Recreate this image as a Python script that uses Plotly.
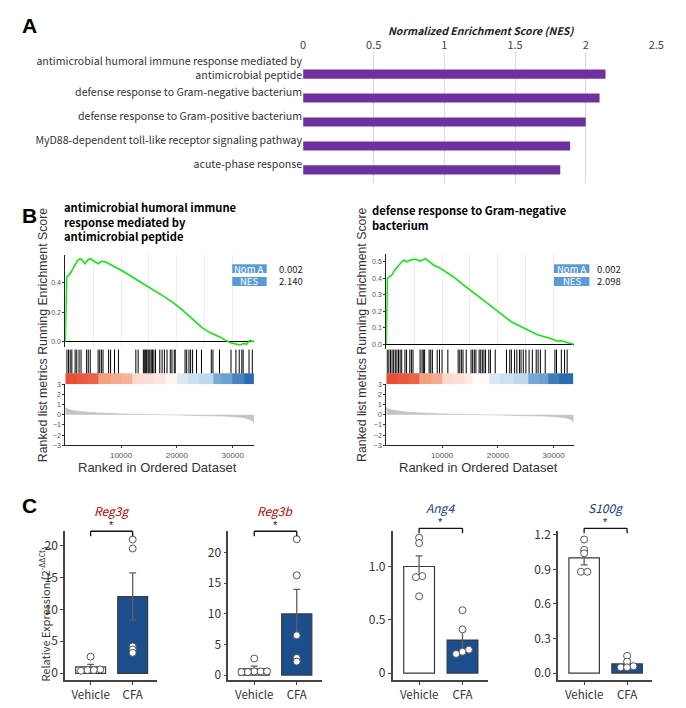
import plotly.graph_objects as go

W, H = 686, 708

# ======================= DATA =======================
# Panel A
go_terms = [
    "antimicrobial humoral immune response mediated by<br>antimicrobial peptide",
    "defense response to Gram-negative bacterium",
    "defense response to Gram-positive bacterium",
    "MyD88-dependent toll-like receptor signaling pathway",
    "acute-phase response",
]
nes_values = [2.140, 2.098, 2.00, 1.89, 1.82]
nes_axis_ticks = [0, 0.5, 1, 1.5, 2, 2.5]
nes_axis_labels = ["0", "0.5", "1", "1.5", "2", "2.5"]

# Panel B
gsea_titles = ["antimicrobial humoral immune<br>response mediated by<br>antimicrobial peptide",
               "defense response to Gram-negative<br>bacterium"]
gsea_nom_p = ["0.002", "0.002"]
gsea_nes = ["2.140", "2.098"]
ranked_list_size = [33800, 33600]

es_rank_1 = [0, 100, 250, 600, 1000, 1400, 1800, 2200, 2650, 3000, 3500, 3900, 4400, 4900,
             5400, 5900, 6400, 6900, 7600, 8400, 9400, 10500, 12000, 13500, 15000, 16500,
             18000, 19500, 21000, 22900, 24500, 26000, 27600, 28600, 29500, 30500, 31300,
             32000, 32500, 33000, 33500, 33800]
es_score_1 = [0, 0.30, 0.44, 0.45, 0.47, 0.50, 0.53, 0.55, 0.565, 0.555, 0.53, 0.55, 0.565, 0.555,
              0.54, 0.53, 0.545, 0.545, 0.535, 0.52, 0.50, 0.475, 0.44, 0.405, 0.375, 0.34,
              0.30, 0.26, 0.215, 0.15, 0.095, 0.06, 0.034, 0.012, -0.005, -0.015, -0.022,
              -0.012, -0.018, 0.008, 0.003, 0.0]
es_rank_2 = [0, 100, 200, 600, 1000, 1500, 2000, 2500, 2900, 3300, 3700, 4200, 4800, 5400,
             5900, 6400, 7000, 7600, 8500, 9500, 10500, 12000, 13500, 15000, 16500, 18000,
             19500, 21000, 22500, 24000, 25500, 27000, 28500, 29500, 30500, 31500, 32500,
             33200, 33600]
es_score_2 = [0, 0.30, 0.40, 0.41, 0.42, 0.45, 0.47, 0.49, 0.505, 0.51, 0.50, 0.51, 0.515, 0.515,
              0.505, 0.51, 0.52, 0.505, 0.48, 0.465, 0.445, 0.41, 0.37, 0.33, 0.29, 0.25,
              0.21, 0.17, 0.135, 0.11, 0.085, 0.06, 0.045, 0.035, 0.02, 0.022, 0.01,
              0.005, 0.0]

hits_1 = [294, 588, 882, 1176, 1764, 2058, 2470, 2822, 3822, 4116, 4469, 5880, 6174, 6468,
          6762, 7762, 8114, 8820, 9526, 12642, 13054, 13994, 14230, 14406, 14582, 14818,
          14994, 15170, 15406, 15641, 15876, 16170, 16934, 17346, 17758, 18228, 18816,
          19110, 19522, 19698, 21462, 21756, 22168, 22462, 22814, 23520, 24402, 26166,
          26460, 27636, 29694, 30576, 31164, 31634, 31870, 32928, 33516]
hits_2 = [173, 462, 751, 1040, 1329, 1618, 1907, 2196, 2485, 2774, 3352, 3641, 4219, 4508,
          4797, 6069, 6416, 6647, 6878, 7687, 7976, 8265, 9132, 9537, 9999, 11040, 12889,
          13178, 13468, 13757, 14334, 15201, 15490, 15779, 16068, 16646, 16935, 17224,
          17513, 17802, 18380, 18669, 19536, 21559, 22137, 22426, 23004, 23409, 23871,
          24160, 24565, 25027, 25605, 26183, 26877, 27224, 27628, 28495, 30229, 30518,
          31385, 31963, 32426]

metric_rank = [0, 300, 1000, 2000, 3500, 5500, 8000, 11000, 14000, 17000, 19500, 22000,
               25000, 28000, 30500, 32000, 33000, 33500, 33800]
metric_1 = [0.75, 0.6, 0.45, 0.35, 0.27, 0.19, 0.12, 0.07, 0.04, 0.01, 0.0, -0.03,
            -0.07, -0.13, -0.2, -0.3, -0.45, -0.6, -0.85]
metric_2 = [0.78, 0.62, 0.46, 0.36, 0.27, 0.19, 0.12, 0.07, 0.04, 0.01, 0.0, -0.03,
            -0.07, -0.13, -0.2, -0.3, -0.45, -0.62, -0.9]

band_edges_1 = [0, 2000, 4000, 6000, 8000, 10000, 12000, 14000, 16000, 18000, 20000,
                22000, 24000, 26500, 28000, 30000, 32000, 33800]
band_level_1 = [0.95, 0.9, 0.85, 0.55, 0.5, 0.45, 0.22, 0.18, 0.14, 0.06, -0.15,
                -0.2, -0.25, -0.55, -0.6, -0.8, -0.95]
band_edges_2 = [0, 2000, 4000, 6000, 8000, 10000, 12000, 14000, 15500, 18500, 20500,
                23000, 25500, 27500, 29000, 31000, 33600]
band_level_2 = [0.95, 0.9, 0.85, 0.55, 0.5, 0.22, 0.18, 0.12, 0.03, -0.15, -0.2,
                -0.25, -0.55, -0.6, -0.85, -0.95]

es_ticks_1 = [0.0, 0.2, 0.4]
es_ticks_2 = [0.0, 0.1, 0.2, 0.3, 0.4, 0.5]
metric_ticks = [3, 2, 1, 0, -1, -2, -3]
rank_ticks = [10000, 20000, 30000]

# Panel C
genes = ["Reg3g", "Reg3b", "Ang4", "S100g"]
groups = ["Vehicle", "CFA"]
mean_vehicle = [1.0, 1.0, 1.0, 1.0]
mean_cfa = [12.0, 10.0, 0.31, 0.08]
sem_vehicle = [0.4, 0.45, 0.10, 0.06]
sem_cfa = [3.7, 4.0, 0.10, 0.02]
pts_vehicle = [
    [2.6, 0.6, 0.4, 0.5, 0.5],
    [2.7, 0.6, 0.5, 0.6, 0.6, 0.5],
    [1.27, 1.22, 0.91, 0.90, 0.72],
    [1.16, 1.07, 1.04, 0.88, 0.88],
]
pts_cfa = [
    [20.9, 19.5, 4.2, 3.7, 3.2],
    [22.2, 16.3, 6.5, 2.8, 2.2],
    [0.59, 0.41, 0.22, 0.20, 0.18],
    [0.15, 0.10, 0.06, 0.05, 0.05],
]
gene_y_ticks = [[0, 5, 10, 15, 20], [0, 5, 10, 15, 20], [0, 0.5, 1.0], [0, 0.3, 0.6, 0.9, 1.2]]
gene_y_labels = [["0", "5", "10", "15", "20"], ["0", "5", "10", "15", "20"],
                 ["0", "0.5", "1.0"], ["0.0", "0.3", "0.6", "0.9", "1.2"]]
gene_colors = ["#C00000", "#C00000", "#203C7C", "#203C7C"]

# ======================= HELPERS =======================
def xd(a, b):
    return [a / W, b / W]

def yd(top, bottom):
    return [1 - bottom / H, 1 - top / H]

def px(x):
    return x / W

def py(y):
    return 1 - y / H

KFONT = "Noto Sans CJK KR"
AFONT = "Liberation Sans"

fig = go.Figure()
layout = dict(width=W, height=H, margin=dict(l=0, r=0, t=0, b=0),
              paper_bgcolor="white", plot_bgcolor="white", showlegend=False,
              font=dict(family=KFONT, color="#333"))
annotations = []
shapes = []


def note(text, x, y, size, color="#333", family=KFONT, xanchor="center", yanchor="middle",
         **kw):
    font = dict(size=size, color=color, family=family)
    font.update(kw.pop("font_extra", {}))
    d = dict(text=text, x=x, y=y, xref=kw.pop("xref", "paper"), yref=kw.pop("yref", "paper"),
             xanchor=xanchor, yanchor=yanchor, showarrow=False, font=font)
    d.update(kw)
    annotations.append(d)


# ======================= PANEL A =======================
fig.add_trace(go.Bar(x=nes_values, y=list(range(len(nes_values))), orientation="h",
                     width=0.38, marker=dict(color="#7030A0", line=dict(width=0)),
                     xaxis="x", yaxis="y"))
layout["xaxis"] = dict(domain=xd(305, 664), range=[0, 2.5], side="top", anchor="y",
                       tickvals=nes_axis_ticks, ticktext=nes_axis_labels, showgrid=True,
                       gridcolor="#D9D9D9", gridwidth=1, zeroline=False, showline=False,
                       ticks="", tickfont=dict(size=11, color="#444", family=KFONT))
layout["yaxis"] = dict(domain=yd(47, 179), range=[4.536, -0.907], anchor="x",
                       tickvals=list(range(len(go_terms))), ticktext=go_terms,
                       showgrid=False, zeroline=False, showline=False, ticks="",
                       ticklabelshift=6,
                       tickfont=dict(size=10.6, color="#333", family=KFONT))
note("<i>Normalized Enrichment Score (NES)</i>", px(486), py(24.5), 10.5, "#222",
     font_extra=dict(weight="bold"))

# ======================= PANEL B =======================
B = [
    dict(x0=63.3, x1=255, es_top=252, es_bot=345, es_range=[-0.0336, 0.5906],
         es_rank=es_rank_1, es_score=es_score_1, hits=hits_1, metric=metric_1,
         band_edges=band_edges_1, band_level=band_level_1, es_ticks=es_ticks_1,
         n=ranked_list_size[0], title_x=60, title_y=193, table_x0=233, table_x1=268,
         val_x=279, ylab_x=40, xlab_x=157),
    dict(x0=389.5, x1=580, es_top=251, es_bot=347, es_range=[-0.0257, 0.549],
         es_rank=es_rank_2, es_score=es_score_2, hits=hits_2, metric=metric_2,
         band_edges=band_edges_2, band_level=band_level_2, es_ticks=es_ticks_2,
         n=ranked_list_size[1], title_x=373, title_y=196, table_x0=560, table_x1=596,
         val_x=603, ylab_x=365, xlab_x=483),
]
band_scale = [[0, "#2166AC"], [0.25, "#7FB1DA"], [0.5, "#FFFFFF"], [0.75, "#F6A98C"],
              [1, "#E8432C"]]
ax = 2
for i, b in enumerate(B):
    # ES panel
    fig.add_trace(go.Scatter(x=b["es_rank"], y=b["es_score"], mode="lines",
                             line=dict(color="#11E611", width=1.6),
                             xaxis=f"x{ax}", yaxis=f"y{ax}"))
    layout[f"xaxis{ax}"] = dict(domain=xd(b["x0"], b["x1"]), range=[0, b["n"]], anchor=f"y{ax}",
                                showticklabels=False, ticks="", showgrid=True, dtick=5000,
                                gridcolor="#EDEDED", gridwidth=1, zeroline=False, showline=False)
    layout[f"yaxis{ax}"] = dict(domain=yd(b["es_top"], b["es_bot"]), range=b["es_range"],
                                anchor=f"x{ax}", tickvals=b["es_ticks"], tickformat=".1f",
                                ticks="outside", ticklen=2, tickcolor="#333",
                                tickfont=dict(size=7, color="#555", family=AFONT),
                                showline=True, linecolor="#222", linewidth=1, showgrid=False,
                                zeroline=True, zerolinecolor="#000", zerolinewidth=1.2)
    ax += 1
    # hits + colour band
    hx, hy = [], []
    for h in b["hits"]:
        hx += [h, h, None]
        hy += [0, 1, None]
    fig.add_trace(go.Heatmap(x=b["band_edges"], y=[-0.4583, 0], z=[b["band_level"]],
                             colorscale=band_scale, zmin=-1, zmax=1, showscale=False,
                             hoverinfo="skip", xaxis=f"x{ax}", yaxis=f"y{ax}"))
    fig.add_trace(go.Scatter(x=hx, y=hy, mode="lines", line=dict(color="#000", width=1),
                             xaxis=f"x{ax}", yaxis=f"y{ax}"))
    layout[f"xaxis{ax}"] = dict(domain=xd(b["x0"], b["x1"]), range=[0, b["n"]], anchor=f"y{ax}",
                                visible=False)
    layout[f"yaxis{ax}"] = dict(domain=yd(347, 383), range=[-0.4583, 1.0417], anchor=f"x{ax}",
                                visible=False)
    ax += 1
    # ranked list metric
    fig.add_trace(go.Scatter(x=metric_rank[:-1] + [b["n"]], y=b["metric"], mode="lines",
                             fill="tozeroy", fillcolor="#C4C4C4",
                             line=dict(color="#B8B8B8", width=0.5),
                             xaxis=f"x{ax}", yaxis=f"y{ax}"))
    layout[f"xaxis{ax}"] = dict(domain=xd(b["x0"], b["x1"]), range=[0, b["n"]], anchor=f"y{ax}",
                                tickvals=rank_ticks, ticktext=[str(t) for t in rank_ticks],
                                ticks="outside", ticklen=2, tickcolor="#333",
                                tickfont=dict(size=8, color="#555", family=AFONT),
                                showline=True, linecolor="#222", linewidth=1, showgrid=False,
                                zeroline=False)
    layout[f"yaxis{ax}"] = dict(domain=yd(383, 445), range=[-3, 3], anchor=f"x{ax}",
                                tickvals=metric_ticks, ticks="outside", ticklen=2,
                                tickcolor="#333", tickfont=dict(size=7, color="#555", family=AFONT),
                                showline=True, linecolor="#222", linewidth=1, showgrid=False,
                                zeroline=False)
    ax += 1
    # titles and table
    note(gsea_titles[i], px(b["title_x"]), py(b["title_y"]), 11.2, "#000",
         xanchor="left", yanchor="top", align="left", font_extra=dict(weight="bold"))
    for lab, val, top in [("Nom A", gsea_nom_p[i], 261.5), ("NES", gsea_nes[i], 274.5)]:
        shapes.append(dict(type="rect", xref="paper", yref="paper",
                           x0=px(b["table_x0"]), x1=px(b["table_x1"]),
                           y0=py(top + 9), y1=py(top), fillcolor="#5B9BD5",
                           line=dict(width=0), layer="above"))
        note(lab, px((b["table_x0"] + b["table_x1"]) / 2), py(top + 4.5), 9.5, "white",
             borderpad=0)
        note(val, px(b["val_x"]), py(top + 4.5), 9.5, "#222", xanchor="left", borderpad=0)
    note("Ranked list metrics Running Enrichment Score", px(b["ylab_x"]), py(333), 12.3,
         "#333", family=AFONT, textangle=-90)
    note("Ranked in Ordered Dataset", px(b["xlab_x"]), py(467.5), 13, "#333", family=AFONT)

# ======================= PANEL C =======================
C = [
    dict(x0=63, x1=157, yr=[-1.1, 22.2], brk=0),
    dict(x0=229, x1=324, yr=[-0.855, 23.5], brk=0),
    dict(x0=396, x1=493, yr=[-0.0676, 1.3306], brk=3),
    dict(x0=564, x1=660, yr=[-0.0626, 1.2317], brk=3),
]
ctop, cbot = 532, 683
xr = [-0.61, 1.59]


def dodge(vals, ppu, ppc, thr=3.0, step=6.5):
    order = sorted(range(len(vals)), key=lambda k: vals[k])
    offs = [0.0] * len(vals)
    clusters, cur = [], [order[0]]
    for k in order[1:]:
        if (vals[k] - vals[cur[-1]]) * ppu < thr:
            cur.append(k)
        else:
            clusters.append(cur)
            cur = [k]
    clusters.append(cur)
    for c in clusters:
        n = len(c)
        for j, k in enumerate(c):
            offs[k] = (j - (n - 1) / 2) * step / ppc
    return offs


for g, c in enumerate(C):
    xa = f"x{ax}"
    ya = f"y{ax}"
    ppu = (cbot - ctop) / (c["yr"][1] - c["yr"][0])
    ppc = (c["x1"] - c["x0"]) / (xr[1] - xr[0])
    fig.add_trace(go.Bar(x=[0, 1], y=[mean_vehicle[g], mean_cfa[g]], width=0.71,
                         marker=dict(color=["white", "#1C4E8E"], line=dict(color="#3A3A3A", width=1.2)),
                         error_y=dict(type="data", array=[sem_vehicle[g], sem_cfa[g]],
                                      color="#606060", thickness=1.3, width=3.5),
                         xaxis=xa, yaxis=ya))
    for grp, pts in enumerate([pts_vehicle[g], pts_cfa[g]]):
        offs = dodge(pts, ppu, ppc)
        fig.add_trace(go.Scatter(x=[grp + o for o in offs], y=pts, mode="markers",
                                 marker=dict(symbol="circle", size=7, color="white",
                                             line=dict(color="#555", width=1)),
                                 xaxis=xa, yaxis=ya))
    layout[f"xaxis{ax}"] = dict(domain=xd(c["x0"], c["x1"]), range=xr, anchor=ya,
                                tickvals=[0, 1], ticktext=groups, ticks="outside", ticklen=3,
                                tickcolor="#444", showline=True, linecolor="#444", linewidth=1.5,
                                showgrid=False, zeroline=False,
                                tickfont=dict(size=11.5, color="#333", family=KFONT))
    layout[f"yaxis{ax}"] = dict(domain=yd(ctop, cbot), range=c["yr"], anchor=xa,
                                tickvals=gene_y_ticks[g], ticktext=gene_y_labels[g],
                                ticks="outside", ticklen=3, tickcolor="#444", showline=True,
                                linecolor="#444", linewidth=1.5, showgrid=False, zeroline=False,
                                tickfont=dict(size=12, color="#333", family=KFONT))
    d = c["brk"] / (cbot - ctop)
    tick = 5 / (cbot - ctop)
    for (x0, y0, x1, y1) in [(0, 1 + d, 1, 1 + d), (0, 1 + d, 0, 1 + d - tick),
                             (1, 1 + d, 1, 1 + d - tick)]:
        shapes.append(dict(type="line", xref=xa, yref=f"{ya} domain", x0=x0, x1=x1,
                           y0=y0, y1=y1, line=dict(color="#111", width=1.3)))
    note("*", 0.5, 1 + d, 11, "#222", family=AFONT, xref=xa, yref=f"{ya} domain", yshift=6)
    note(f"<i>{genes[g]}</i>", 0.5, 1 + d, 12, gene_colors[g], xref=xa,
         yref=f"{ya} domain", yshift=21)
    ax += 1

note("Relative Expression (2<sup>-ΔΔCt</sup>)", px(42), py(616), 11, "#333", textangle=-90)

# panel letters
for lab, yy in [("A", 20), ("B", 212), ("C", 506)]:
    note(f"<b>{lab}</b>", px(27), py(yy), 21, "#000", family=AFONT)

layout["annotations"] = annotations
layout["shapes"] = shapes
fig.update_layout(**layout)

fig.write_html("out.html", config={"displayModeBar": False},
               post_script="document.body.style.margin='0';")
